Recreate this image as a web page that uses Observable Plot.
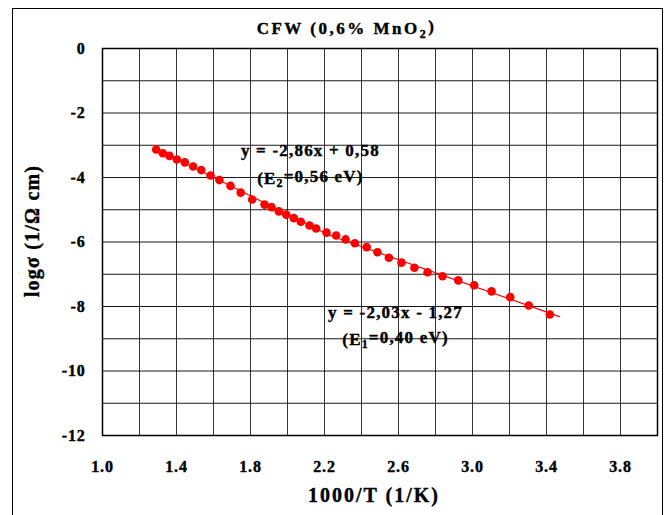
<!DOCTYPE html>
<html>
<head>
<meta charset="utf-8">
<script src="https://cdn.jsdelivr.net/npm/d3@7"></script>
<script src="https://cdn.jsdelivr.net/npm/@observablehq/plot@0.6"></script>
<style>
  html, body { margin: 0; padding: 0; background: #fff; }
  #wrap { position: relative; width: 666px; height: 515px; overflow: hidden; }
  #border { position: absolute; left: 12px; top: 8px; width: 651px; height: 530px; border: 1.5px solid #000; box-sizing: border-box; pointer-events: none; }
  svg { font-family: "Liberation Serif", "Times New Roman", serif; }
</style>
</head>
<body>
<div id="wrap"><div id="border"></div></div>
<script>
// Data
const invT = [1.290,1.326,1.362,1.402,1.445,1.490,1.534,1.584,1.632,1.692,1.747,1.809,
  1.876,1.914,1.953,1.993,2.034,2.072,2.119,2.155,2.211,2.263,2.314,2.364,
  2.428,2.486,2.548,2.616,2.686,2.757,2.838,2.923,3.009,3.103,3.204,3.304,3.418];
const logSigma = [-3.13,-3.25,-3.33,-3.44,-3.53,-3.66,-3.77,-3.94,-4.08,-4.26,-4.47,-4.68,
  -4.84,-4.92,-5.05,-5.15,-5.26,-5.37,-5.49,-5.58,-5.71,-5.80,-5.92,-6.04,
  -6.16,-6.32,-6.49,-6.64,-6.80,-6.94,-7.06,-7.19,-7.34,-7.53,-7.71,-7.97,-8.25];

// Linear fits (slope, intercept, x-range)
const fitSlopes = [-2.86, -2.03];
const fitIntercepts = [0.58, -1.27];
const fitStart = [1.29, 2.23];
const fitEnd = [2.23, 3.47];

const xTickLabels = [1.0, 1.4, 1.8, 2.2, 2.6, 3.0, 3.4, 3.8];
const yTickLabels = [0, -2, -4, -6, -8, -10, -12];
const xGrid = d3.range(0, 16).map(i => +(1 + i * 0.2).toFixed(1));
const yGrid = d3.range(-12, 1);

const titleText = "CFW (0,6% MnO₂)";
const xLabel = "1000/T (1/K)";
const yLabel = "logσ (1/Ω cm)";
const annotations = [
  {x: 2.124, y: -3.16, text: "y = -2,86x + 0,58"},
  {x: 2.124, y: -4.03, text: "(E₂=0,56 eV)"},
  {x: 2.584, y: -8.18, text: "y = -2,03x - 1,27"},
  {x: 2.584, y: -9.02, text: "(E₁=0,40 eV)"}
];

const points = invT.map((x, i) => ({x, y: logSigma[i]}));
const fitLines = [];
fitSlopes.forEach((m, k) => {
  [fitStart[k], fitEnd[k]].forEach(x => fitLines.push({k, x, y: m * x + fitIntercepts[k]}));
});
const fmtX = d3.format(".1f");
const fmtY = d => d < 0 ? "-" + Math.abs(d) : String(d);
const heavy = {fill: "#000", stroke: "#000", strokeWidth: 0.4, fontWeight: "bold"};

const plot = Plot.plot({
  width: 666,
  height: 515,
  marginLeft: 102,
  marginRight: 9,
  marginTop: 48,
  marginBottom: 80,
  style: {fontFamily: '"Liberation Serif", "Times New Roman", serif', background: "transparent", overflow: "visible"},
  x: {domain: [1, 4], axis: null},
  y: {domain: [-12, 0], axis: null},
  marks: [
    Plot.gridX(xGrid, {stroke: "#000", strokeOpacity: 0.8, strokeWidth: 1}),
    Plot.gridY(yGrid, {stroke: "#000", strokeOpacity: 0.9, strokeWidth: 1}),
    Plot.frame({stroke: "#000", strokeWidth: 1.5}),
    // tick labels
    Plot.text(xTickLabels, {x: d => d, frameAnchor: "bottom", dy: 31, text: fmtX, fontSize: 16, textAnchor: "middle", lineAnchor: "middle", ...heavy}),
    Plot.text(yTickLabels, {y: d => d, frameAnchor: "left", dx: -17, text: fmtY, fontSize: 16, textAnchor: "end", lineAnchor: "middle", ...heavy}),
    Plot.line(fitLines, {x: "x", y: "y", z: "k", stroke: "#ff0000", strokeWidth: 1.2}),
    Plot.dot(points, {x: "x", y: "y", r: 4.3, fill: "#ff0000", stroke: "none"}),
    Plot.text(annotations, {x: "x", y: "y", text: "text", fontSize: 17, textAnchor: "middle", lineAnchor: "middle", ...heavy}),
    Plot.text([titleText], {frameAnchor: "top-left", dx: 244, dy: -20, fontSize: 17, textAnchor: "middle", lineAnchor: "middle", ...heavy}),
    Plot.text([xLabel], {frameAnchor: "bottom", dx: -6, dy: 60, fontSize: 20, textAnchor: "middle", lineAnchor: "middle", ...heavy}),
    Plot.text([yLabel], {frameAnchor: "left", dx: -70, dy: -11, rotate: -90, fontSize: 20, textAnchor: "middle", lineAnchor: "middle", ...heavy})
  ]
});

const svg = d3.select(plot);
const noteSet = new Set(annotations.map(a => a.text));
const tickSet = new Set([...xTickLabels.map(d => fmtX(d)), ...yTickLabels.map(fmtY)]);

svg.selectAll("text").each(function() {
  const t = this.textContent;
  const sel = d3.select(this);
  if (noteSet.has(t)) {
    sel.attr("letter-spacing", "1.2px");
  } else if (t === titleText) {
    sel.attr("letter-spacing", "2.5px");
  } else if (t === xLabel) {
    sel.attr("letter-spacing", "2px");
  } else if (t === yLabel) {
    sel.attr("letter-spacing", "1.2px");
  } else if (tickSet.has(t)) {
    sel.attr("letter-spacing", "0.8px");
  }
  // Render subscripts as real tspans
  if (!/[₁₂]/.test(t) || this.querySelector("tspan")) return;
  sel.text(null);
  const subMap = {"₁": "1", "₂": "2"};
  let buf = "";
  let afterSub = false;
  const flush = () => {
    if (buf) {
      const ts = sel.append("tspan").text(buf);
      if (afterSub) ts.attr("dy", "-0.3em");
      buf = ""; afterSub = false;
    }
  };
  for (const ch of t) {
    if (subMap[ch]) {
      flush();
      sel.append("tspan").attr("dy", "0.3em").attr("font-size", "0.7em").text(subMap[ch]);
      afterSub = true;
    } else buf += ch;
  }
  flush();
});

document.getElementById("wrap").appendChild(plot);
</script>
</body>
</html>
